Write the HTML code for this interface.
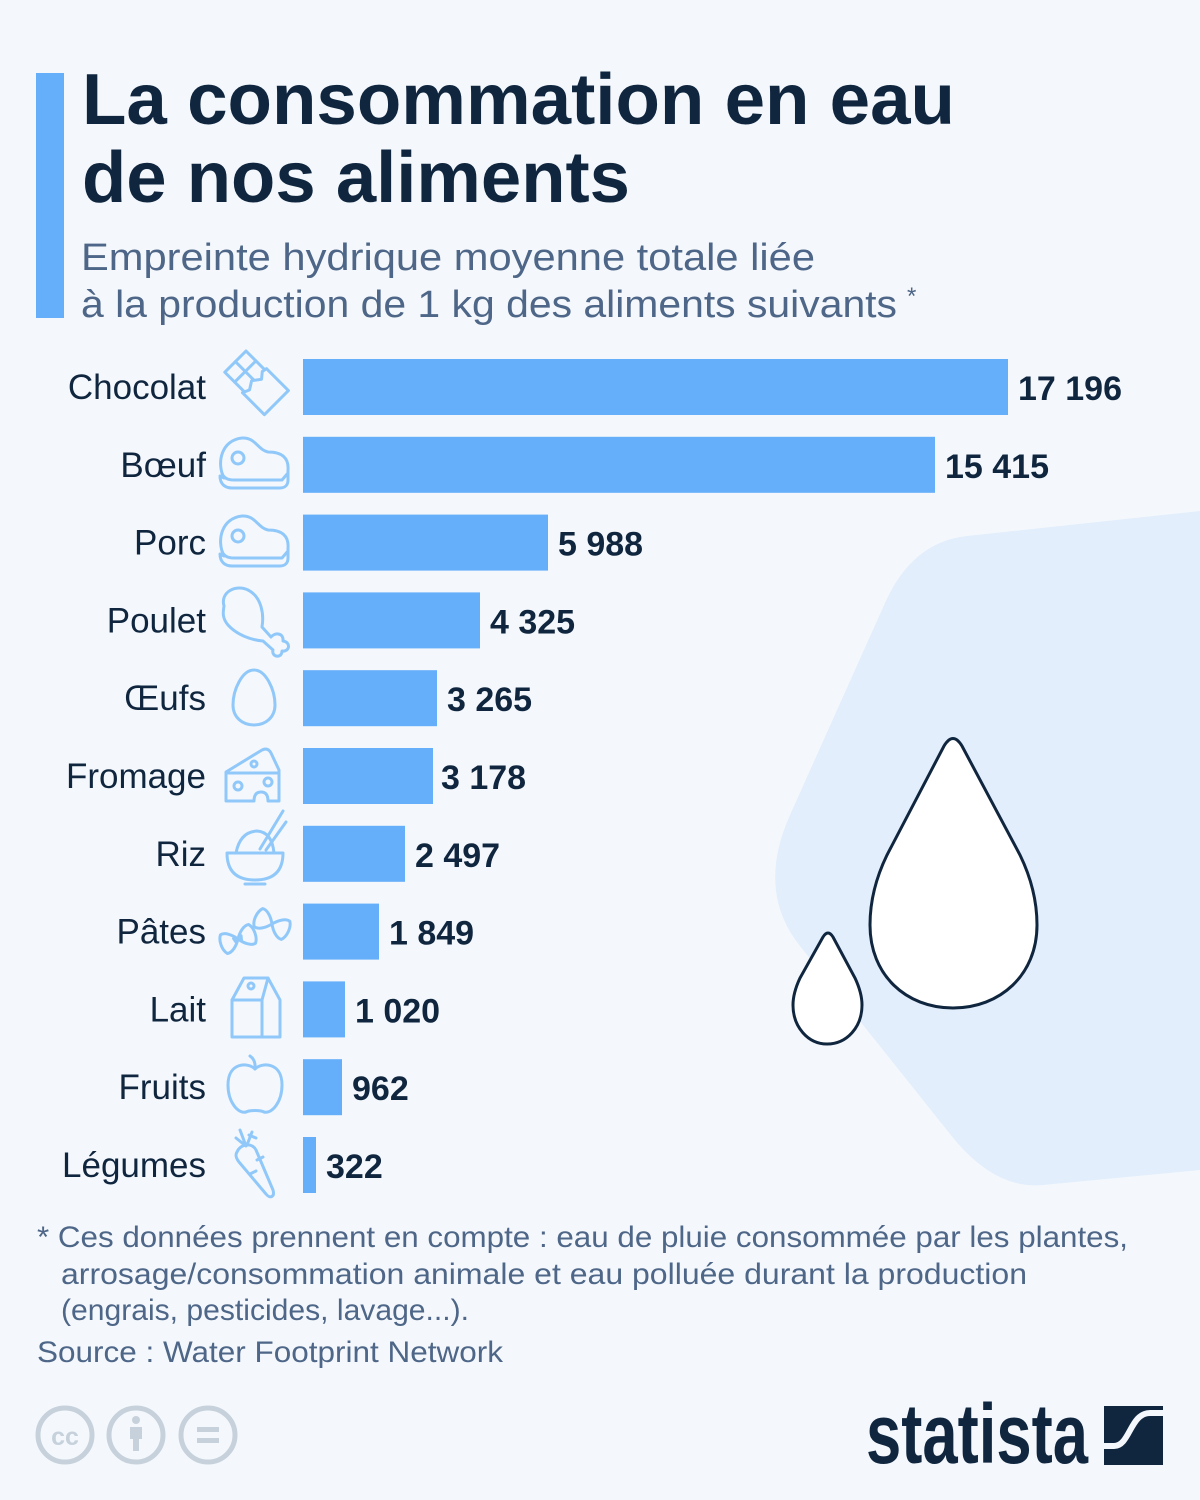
<!DOCTYPE html>
<html><head><meta charset="utf-8"><style>
html,body{margin:0;padding:0;background:#f4f8fc;}
svg{display:block;}
text{font-family:"Liberation Sans",Arial,sans-serif;}
</style></head><body>
<svg width="1200" height="1500" viewBox="0 0 1200 1500" xmlns="http://www.w3.org/2000/svg">
<rect x="0" y="0" width="1200" height="1500" fill="#f4f8fc"/>
<!-- background hexagon -->
<path d="M1200,511 L967,536 Q912,542 885,603 L790,815 Q756,891 800,946 L950,1134 Q994,1190 1043,1185 L1200,1170 Z" fill="#e2eefc"/>
<!-- drops -->
<path d="M944,746 Q953,731 962,746 L1020,855 Q1037,890 1037,925 C1037,975 1000,1008 953,1008 C906,1008 870,975 870,925 Q870,890 887,855 Z" fill="#ffffff" stroke="#10263f" stroke-width="3"/>
<path d="M823,937 Q828,929 833,937 L855,978 Q862,993 862,1005 C862,1027 847,1044 827,1044 C808,1044 793,1027 793,1005 Q793,993 800,978 Z" fill="#ffffff" stroke="#10263f" stroke-width="3"/>

<!-- title -->
<rect x="36" y="73" width="28" height="245" fill="#64aefa"/>
<text x="82" y="124" font-size="72" font-weight="bold" fill="#10263f" textLength="873" lengthAdjust="spacingAndGlyphs">La consommation en eau</text>
<text x="82" y="202" font-size="72" font-weight="bold" fill="#10263f" textLength="548" lengthAdjust="spacingAndGlyphs">de nos aliments</text>
<text x="81" y="270" font-size="38" fill="#4e6687" textLength="734" lengthAdjust="spacingAndGlyphs">Empreinte hydrique moyenne totale liée</text>
<text x="81" y="317" font-size="38" fill="#4e6687" textLength="816" lengthAdjust="spacingAndGlyphs">à la production de 1 kg des aliments suivants</text>
<text x="907" y="304" font-size="24" fill="#4e6687">*</text>

<!-- bars -->
<g fill="#64aefa">
<rect x="303" y="359" width="705" height="56"/>
<rect x="303" y="436.8" width="632" height="56"/>
<rect x="303" y="514.6" width="245" height="56"/>
<rect x="303" y="592.4" width="177" height="56"/>
<rect x="303" y="670.2" width="134" height="56"/>
<rect x="303" y="748" width="130" height="56"/>
<rect x="303" y="825.8" width="102" height="56"/>
<rect x="303" y="903.6" width="76" height="56"/>
<rect x="303" y="981.4" width="42" height="56"/>
<rect x="303" y="1059.2" width="39" height="56"/>
<rect x="303" y="1137" width="13" height="56"/>
</g>
<!-- category labels -->
<g font-size="35" fill="#10263f" text-anchor="end">
<text x="206" y="399">Chocolat</text>
<text x="206" y="476.8">Bœuf</text>
<text x="206" y="554.6">Porc</text>
<text x="206" y="632.4">Poulet</text>
<text x="206" y="710.2">Œufs</text>
<text x="206" y="788">Fromage</text>
<text x="206" y="865.8">Riz</text>
<text x="206" y="943.6">Pâtes</text>
<text x="206" y="1021.4">Lait</text>
<text x="206" y="1099.2">Fruits</text>
<text x="206" y="1177">Légumes</text>
</g>
<!-- values -->
<g font-size="34" font-weight="bold" fill="#10263f">
<text x="1018" y="400">17 196</text>
<text x="945" y="477.8">15 415</text>
<text x="558" y="555.6">5 988</text>
<text x="490" y="633.4">4 325</text>
<text x="447" y="711.2">3 265</text>
<text x="441" y="789">3 178</text>
<text x="415" y="866.8">2 497</text>
<text x="389" y="944.6">1 849</text>
<text x="355" y="1022.4">1 020</text>
<text x="352" y="1100.2">962</text>
<text x="326" y="1178">322</text>
</g>

<!-- icons -->
<g fill="none" stroke="#91c8fa" stroke-width="3" stroke-linecap="round" stroke-linejoin="round">
<!-- chocolate -->
<g transform="translate(246,351) rotate(45)">
<rect x="0" y="0" width="57" height="30"/>
<line x1="14" y1="0" x2="14" y2="30"/>
<line x1="0" y1="15" x2="28" y2="15"/>
<path d="M27,-2 L58,-2 L58,32 L27,32 L30,25 L25,17 L31,9 L26,3 Z" fill="#f4f8fc"/>
</g>
<!-- beef -->
<path d="M224,478 C216,462 222,440 242,438 C255,437 258,450 268,452 C282,452 289,458 288,470 L288,480 C288,485 285,488 280,488 L232,488 C225,488 220,484 220,476 Z"/>
<path d="M222,473 Q224,480 234,480 L282,480 L288,473"/>
<circle cx="238" cy="458" r="6"/>
<!-- pork -->
<path d="M224,556 C216,540 222,518 242,516 C255,515 258,528 268,530 C282,530 289,536 288,548 L288,558 C288,563 285,566 280,566 L232,566 C225,566 220,562 220,554 Z"/>
<path d="M222,551 Q224,558 234,558 L282,558 L288,551"/>
<circle cx="238" cy="536" r="6"/>
<!-- chicken -->
<path d="M224,606 C220,592 236,584 248,590 C262,597 264,615 262,627 L271,637 C275,632 284,633 283,641 C291,642 290,652 282,651 C282,659 271,657 273,650 L263,641 C250,640 236,634 228,625 C222,618 223,612 224,606 Z"/>
<!-- egg -->
<path d="M254,670 C266,670 275,690 275,705 C275,717 266,725 254,725 C242,725 233,717 233,705 C233,690 242,670 254,670 Z"/>
<!-- cheese -->
<path d="M226,801 L226,772 L262,750 Q268,747 271,753 L279,770 L279,801 L268,801 Q268,792 261,792 Q254,792 254,801 Z"/>
<line x1="226" y1="773" x2="279" y2="773"/>
<circle cx="238" cy="786" r="4"/>
<circle cx="268" cy="782" r="4"/>
<circle cx="254" cy="764" r="3"/>
<!-- rice -->
<path d="M227,853 L283,853 Q283,880 255,880 Q227,880 227,853 Z"/>
<line x1="245" y1="884" x2="265" y2="884"/>
<path d="M236,853 Q240,832 257,831 Q272,832 274,853"/>
<line x1="260" y1="849" x2="283" y2="811"/>
<line x1="266" y1="850" x2="286" y2="822"/>
<!-- pasta -->
<g transform="translate(238,939) rotate(-20)">
<path d="M0,0 C-4,-6 -10,-11 -15,-10 C-19,-5 -19,5 -15,10 C-10,11 -4,6 0,0 C4,-6 10,-11 15,-10 C19,-5 19,5 15,10 C10,11 4,6 0,0 Z"/>
<line x1="-4" y1="-2" x2="-3" y2="2"/><line x1="4" y1="-2" x2="3" y2="2"/>
</g>
<g transform="translate(272,924) rotate(25)">
<path d="M0,0 C-4,-6 -10,-11 -15,-10 C-19,-5 -19,5 -15,10 C-10,11 -4,6 0,0 C4,-6 10,-11 15,-10 C19,-5 19,5 15,10 C10,11 4,6 0,0 Z"/>
</g>
<!-- milk -->
<path d="M232,1000 L244,978 L268,978 L280,1000 L280,1037 L232,1037 Z"/>
<path d="M232,1000 L262,1000 L268,978 M262,1000 L262,1037"/>
<circle cx="251" cy="986" r="3"/>
<!-- apple -->
<path d="M255,1069 C262,1062 282,1062 282,1085 C282,1102 272,1114 264,1112 C260,1110 250,1110 246,1112 C238,1114 228,1102 228,1085 C228,1062 248,1062 255,1069 Z"/>
<path d="M255,1069 Q256,1060 250,1056"/>
<!-- carrot -->
<path d="M237,1152 C240,1144 252,1142 256,1150 L273,1190 C275,1197 270,1199 266,1194 L239,1162 C236,1158 235,1155 237,1152 Z"/>
<path d="M246,1146 L240,1130 M246,1146 L236,1138 M247,1145 L252,1132 M249,1135 L256,1138"/>
<line x1="257" y1="1160" x2="263" y2="1157"/>
<line x1="250" y1="1174" x2="256" y2="1171"/>
</g>

<!-- footnote -->
<g font-size="30" fill="#4e6687">
<text x="37" y="1247" textLength="1091" lengthAdjust="spacingAndGlyphs">* Ces données prennent en compte : eau de pluie consommée par les plantes,</text>
<text x="61" y="1284" textLength="966" lengthAdjust="spacingAndGlyphs">arrosage/consommation animale et eau polluée durant la production</text>
<text x="61" y="1320" textLength="408" lengthAdjust="spacingAndGlyphs">(engrais, pesticides, lavage...).</text>
<text x="37" y="1362" textLength="466" lengthAdjust="spacingAndGlyphs">Source : Water Footprint Network</text>
</g>

<!-- CC icons -->
<g fill="none" stroke="#c6d1db" stroke-width="5">
<circle cx="65" cy="1435" r="27"/>
<circle cx="136" cy="1435" r="27"/>
<circle cx="208" cy="1435" r="27"/>
</g>
<text x="65" y="1445" font-size="25" font-weight="bold" fill="#c6d1db" text-anchor="middle">cc</text>
<circle cx="136" cy="1420" r="4" fill="#c6d1db"/>
<rect x="130" y="1427" width="12" height="12" fill="#c6d1db"/>
<rect x="133" y="1437" width="6" height="14" fill="#c6d1db"/>
<rect x="197" y="1427" width="22" height="5" fill="#c6d1db"/>
<rect x="197" y="1438" width="22" height="5" fill="#c6d1db"/>

<!-- statista logo -->
<text x="866" y="1463" font-size="84" font-weight="bold" fill="#10263f" textLength="222" lengthAdjust="spacingAndGlyphs">statista</text>
<rect x="1104" y="1406" width="59" height="59" fill="#10263f"/>
<path d="M1104,1446 L1114,1446 C1130,1446 1130,1413 1150,1413 L1163,1413" fill="none" stroke="#f4f8fc" stroke-width="6"/>
</svg>
</body></html>
